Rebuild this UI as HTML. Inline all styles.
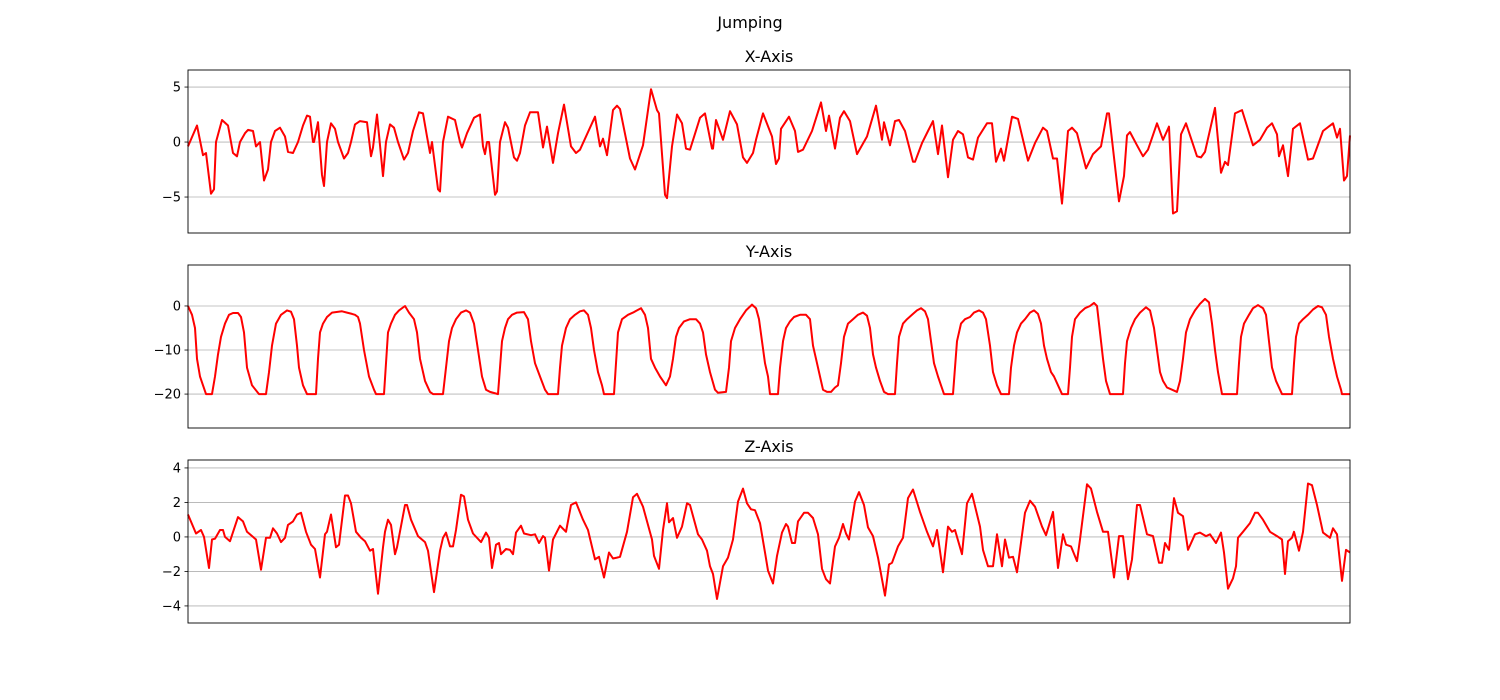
<!DOCTYPE html>
<html><head><meta charset="utf-8"><style>
body{margin:0;background:#fff;}
svg{display:block;font-family:"DejaVu Sans","Liberation Sans",sans-serif;}
</style></head><body>
<svg id="chart" width="1500" height="700" viewBox="0 0 1500 700" xmlns="http://www.w3.org/2000/svg">
<rect width="1500" height="700" fill="#fff"/>
<text x="750" y="28" text-anchor="middle" font-size="16">Jumping</text>
</svg>
<script>
// time samples (index axis) and values for each accelerometer axis
const xTime=[188,197,203,206,211,214,216,222,228,233,237,240,245,248,253,256,260,264,268,271,275,280,285,288,293,298,303,307,310,313,314,318,322,324,327,331,335,338,344,348,351,355,360,367,371,373,377,383,386,390,394,398,404,408,413,419,423,427,430,432,438,440,443,448,455,460,462,467,474,480,483,485,487,489,495,497,500,505,508,514,517,520,525,530,538,543,547,553,558,564,571,576,580,595,600,603,607,613,617,620,630,635,643,651,657,659,665,667,672,677,682,686,690,700,705,712,713,716,723,730,737,743,747,753,756,763,772,776,779,781,789,795,798,803,812,821,826,829,835,840,844,850,857,867,876,882,884,890,895,899,905,913,915,922,928,933,938,942,948,953,958,963,968,973,978,987,992,996,1001,1004,1012,1018,1028,1035,1043,1047,1053,1057,1062,1068,1072,1077,1086,1093,1101,1107,1109,1119,1124,1127,1130,1137,1143,1148,1157,1163,1169,1173,1177,1181,1186,1197,1201,1205,1215,1221,1225,1228,1235,1242,1253,1260,1267,1272,1277,1279,1283,1288,1293,1300,1308,1313,1323,1333,1337,1340,1344,1347,1350];
const xVals=[-0.4,1.5,-1.2,-1,-4.7,-4.3,0,2,1.5,-1,-1.3,0,0.8,1.1,1,-0.4,0,-3.5,-2.5,0,1,1.3,0.5,-0.9,-1,0,1.5,2.4,2.3,0,0,1.8,-3,-4,0,1.7,1.2,0,-1.5,-1,0,1.6,1.9,1.8,-1.3,-0.5,2.5,-3.1,0,1.6,1.3,0,-1.6,-1,1,2.7,2.6,0.5,-1,0,-4.3,-4.5,0,2.3,2,0,-0.5,0.8,2.2,2.5,-0.4,-1.1,0,0,-4.8,-4.5,0,1.8,1.3,-1.4,-1.7,-1,1.5,2.7,2.7,-0.5,1.4,-1.9,0.8,3.4,-0.4,-1,-0.7,2.3,-0.4,0.3,-1.2,2.9,3.3,3,-1.5,-2.5,-0.3,4.8,2.9,2.6,-4.8,-5.1,-0.4,2.5,1.7,-0.6,-0.7,2.2,2.6,-0.6,-0.6,2,0.2,2.8,1.6,-1.4,-1.9,-1,0.2,2.6,0.5,-2,-1.5,1.2,2.3,1,-0.9,-0.7,1,3.6,1,2.4,-0.6,2.2,2.8,1.9,-1.1,0.5,3.3,0.2,1.8,-0.3,1.9,2,1,-1.8,-1.8,-0.1,1,1.9,-1.1,1.5,-3.2,0.2,1,0.7,-1.4,-1.6,0.4,1.7,1.7,-1.8,-0.6,-1.7,2.3,2.1,-1.7,-0.1,1.3,1,-1.5,-1.5,-5.6,1,1.3,0.8,-2.4,-1.1,-0.4,2.6,2.6,-5.4,-3.1,0.6,0.9,-0.3,-1.3,-0.7,1.7,0.2,1.4,-6.5,-6.3,0.7,1.7,-1.3,-1.4,-0.9,3.1,-2.8,-1.8,-2.1,2.6,2.9,-0.3,0.2,1.3,1.7,0.7,-1.3,-0.3,-3.1,1.2,1.7,-1.6,-1.5,1,1.7,0.4,1.2,-3.5,-3.1,0.6];

const yTime=[188,192,195,197,200,203,206,212,215,218,221,225,229,233,238,241,244,247,252,259,266,269,272,276,281,287,291,294,297,299,303,307,316,318,320,323,327,332,342,347,352,355,358,360,364,369,374,376,384,386,388,391,395,399,405,409,414,417,420,425,430,433,443,446,449,452,456,461,466,470,474,478,482,486,490,498,500,502,505,508,512,517,524,528,531,535,540,545,548,558,560,562,566,570,575,580,584,588,591,594,598,602,604,614,616,618,622,628,633,637,641,645,648,651,655,660,666,670,673,676,679,684,690,696,700,703,706,710,715,718,726,729,731,735,740,746,752,756,759,762,765,768,770,778,780,783,786,790,794,800,806,810,813,817,820,823,827,831,835,838,841,844,848,853,858,863,867,870,873,876,880,884,888,895,897,899,903,907,912,917,921,925,928,931,934,938,941,944,953,955,957,961,965,970,974,979,983,986,990,993,997,1001,1009,1011,1014,1017,1021,1025,1030,1034,1038,1041,1044,1047,1051,1054,1058,1062,1068,1070,1072,1075,1080,1085,1090,1094,1097,1100,1103,1106,1110,1123,1125,1127,1131,1135,1140,1146,1150,1154,1157,1160,1163,1167,1172,1177,1180,1183,1186,1190,1195,1200,1205,1209,1212,1215,1218,1222,1237,1239,1241,1244,1249,1253,1258,1263,1266,1269,1272,1276,1282,1292,1294,1296,1299,1303,1308,1313,1318,1322,1326,1329,1333,1337,1341,1342,1350];
const yVals=[0,-2,-5,-12,-16,-18,-20,-20,-16,-11,-7,-4,-2,-1.6,-1.6,-2.5,-6,-14,-18,-20,-20,-15,-9,-4,-2,-1,-1.3,-3,-9,-14,-18,-20,-20,-12,-6,-4,-2.5,-1.5,-1.2,-1.5,-1.8,-2,-2.5,-4,-10,-16,-19,-20,-20,-13,-6,-4,-2,-1,0,-1.5,-3,-6,-12,-17,-19.5,-20,-20,-14,-8,-5,-3,-1.5,-1,-1.5,-4,-10,-16,-19,-19.5,-20,-14,-8,-5,-3,-2,-1.5,-1.4,-3,-8,-13,-16,-19,-20,-20,-14,-9,-5,-3,-2,-1.2,-1,-2,-5,-10,-15,-18,-20,-20,-13,-6,-3,-2,-1.5,-1,-0.5,-2,-5,-12,-14,-16,-18,-16,-12,-7,-5,-3.5,-3,-3,-4,-6,-11,-15,-19,-19.7,-19.5,-14,-8,-5,-3,-1,0.3,-0.5,-3,-8,-13,-16,-20,-20,-14,-8,-5,-3.5,-2.5,-2,-2,-3,-9,-13,-16,-19,-19.5,-19.5,-18.5,-18,-13,-7,-4,-3,-2,-1.5,-2.2,-5,-11,-14,-17,-19.5,-20,-20,-13,-7,-4,-3,-2,-1,-0.5,-1.2,-3,-8,-13,-16,-18,-20,-20,-14,-8,-4,-3,-2.5,-1.5,-1,-1.5,-3,-9,-15,-18,-20,-20,-14,-9,-6,-4,-3,-1.5,-1,-1.8,-4,-9,-12,-15,-16,-18,-20,-20,-14,-7,-3,-1.5,-0.5,0,0.7,0,-6,-12,-17,-20,-20,-13,-8,-5,-3,-1.5,-0.3,-1,-5,-10,-15,-17,-18.5,-19,-19.5,-17,-12,-6,-3,-1,0.5,1.6,0.8,-4,-10,-15,-20,-20,-13,-7,-4,-2,-0.5,0.2,-0.5,-2,-8,-14,-17,-20,-20,-13,-7,-4,-3,-2,-0.8,0,-0.3,-2,-7,-12,-16,-19,-20,-20];

const zTime=[188,196,201,204,209,212,215,220,223,225,230,238,243,247,253,256,261,266,270,273,277,281,285,288,293,297,301,306,311,315,320,325,327,331,336,339,345,348,351,356,361,365,370,373,378,383,385,388,391,395,397,405,407,411,418,425,428,434,440,443,446,450,453,456,461,464,468,473,481,486,489,492,496,499,501,506,510,513,516,521,524,531,535,539,543,545,549,553,560,566,571,576,583,588,595,599,604,609,613,617,620,627,633,637,643,652,654,659,663,667,669,673,677,682,687,690,698,702,707,710,713,717,723,728,733,738,743,747,751,755,760,765,768,773,777,782,786,788,792,795,798,804,808,813,818,822,826,830,835,839,843,846,849,855,859,864,868,873,878,885,889,892,898,903,908,913,920,927,933,937,943,948,952,955,962,967,972,980,983,988,993,997,1002,1005,1009,1013,1017,1025,1030,1035,1042,1046,1053,1058,1063,1066,1071,1077,1080,1087,1091,1097,1103,1108,1114,1119,1123,1128,1132,1137,1140,1147,1153,1159,1162,1165,1169,1174,1178,1183,1188,1195,1200,1206,1210,1216,1221,1224,1228,1233,1236,1238,1243,1250,1255,1258,1263,1270,1277,1282,1285,1288,1292,1294,1299,1303,1308,1312,1317,1323,1330,1333,1337,1342,1346,1350];
const zVals=[1.3,0.2,0.4,0,-1.8,-0.15,-0.1,0.4,0.4,0,-0.25,1.15,0.9,0.3,0,-0.15,-1.9,-0.05,-0.05,0.5,0.2,-0.3,-0.05,0.7,0.9,1.3,1.4,0.3,-0.45,-0.7,-2.35,0.15,0.3,1.3,-0.6,-0.45,2.4,2.4,1.95,0.3,-0.05,-0.25,-0.8,-0.7,-3.3,-0.6,0.3,1,0.7,-1,-0.6,1.85,1.85,1,0.05,-0.3,-0.8,-3.2,-0.8,-0.05,0.25,-0.55,-0.55,0.4,2.45,2.35,1,0.2,-0.3,0.25,-0.05,-1.8,-0.45,-0.35,-1,-0.7,-0.75,-1,0.25,0.65,0.2,0.1,0.15,-0.35,0.05,-0.05,-1.95,-0.15,0.65,0.3,1.85,2,1,0.4,-1.3,-1.15,-2.35,-0.9,-1.25,-1.2,-1.15,0.3,2.3,2.5,1.75,-0.15,-1.1,-1.85,0.4,1.95,0.85,1.1,-0.05,0.6,1.95,1.85,0.15,-0.15,-0.8,-1.7,-2.15,-3.6,-1.7,-1.2,-0.15,2.05,2.8,1.95,1.6,1.55,0.8,-0.9,-1.95,-2.7,-1.1,0.25,0.75,0.6,-0.35,-0.35,0.9,1.4,1.4,1.1,0.15,-1.85,-2.45,-2.7,-0.55,-0.05,0.75,0.2,-0.15,2.05,2.6,1.85,0.55,0.05,-1.2,-3.4,-1.6,-1.5,-0.55,-0.05,2.25,2.75,1.45,0.3,-0.55,0.4,-2.05,0.6,0.3,0.4,-1,1.95,2.5,0.6,-0.75,-1.7,-1.7,0.15,-1.7,-0.15,-1.2,-1.15,-2.05,1.4,2.1,1.75,0.6,0.1,1.45,-1.8,0.15,-0.45,-0.55,-1.4,-0.15,3.05,2.8,1.45,0.3,0.3,-2.35,0.05,0.05,-2.45,-1.3,1.85,1.85,0.15,0.05,-1.5,-1.5,-0.35,-0.75,2.25,1.4,1.2,-0.75,0.15,0.25,0.05,0.15,-0.35,0.25,-0.9,-3,-2.4,-1.7,-0.05,0.3,0.8,1.4,1.4,1,0.3,0.05,-0.15,-2.15,-0.25,-0.05,0.3,-0.8,0.3,3.1,3,1.85,0.25,-0.05,0.5,0.15,-2.55,-0.75,-0.9];

const xTicks=[5,0,-5];
const yTicks=[0,-10,-20];
const zTicks=[4,2,0,-2,-4];
const panelTitles=["X-Axis","Y-Axis","Z-Axis"];

const NS="http://www.w3.org/2000/svg";
const svg=document.getElementById('chart');
const L=188,R=1350;
const tMin=188,tMax=1350;
function mk(tag,attrs,parent){const e=document.createElementNS(NS,tag);for(const k in attrs)e.setAttribute(k,attrs[k]);(parent||svg).appendChild(e);return e;}
function fmt(v){return v<0?'\u2212'+Math.abs(v):String(v);}

const panels=[
 {top:70,bot:233,vmax:6.55,vmin:-8.27,t:xTime,v:xVals,ticks:xTicks,key:'x'},
 {top:265,bot:428,vmax:9.3,vmin:-27.7,t:yTime,v:yVals,ticks:yTicks,key:'y'},
 {top:460,bot:623,vmax:4.46,vmin:-4.99,t:zTime,v:zVals,ticks:zTicks,key:'z'}
];
panels.forEach((p,i)=>{
 const g=mk('g',{});
 
 
 const sx=t=>L+(t-tMin)/(tMax-tMin)*(R-L);
 const sy=v=>p.top+(p.vmax-v)/(p.vmax-p.vmin)*(p.bot-p.top);
 p.ticks.forEach(tv=>{
  const y=sy(tv);
  const gl=mk('line',{x1:L,x2:R,y1:y,y2:y,stroke:'#b0b0b0','stroke-width':0.8},g);
  
  
  const tk=mk('line',{x1:L-3.5,x2:L,y1:y,y2:y,stroke:'#000','stroke-width':0.8},g);
  
  
  const tl=mk('text',{x:L-7,y:y+4.5,'text-anchor':'end','font-size':13},g);
  tl.textContent=fmt(tv);
  
  
 });
 let d='';
 p.t.forEach((t,j)=>{d+=(j?'L':'M')+sx(t).toFixed(1)+','+sy(p.v[j]).toFixed(1);});
 const ln=mk('path',{d:d,fill:'none',stroke:'#ff0000','stroke-width':2,'stroke-linejoin':'round'},g);
 
 
 const fr=mk('rect',{x:L,y:p.top,width:R-L,height:p.bot-p.top,fill:'none',stroke:'#000','stroke-width':0.9},g);
 
 
 const tt=mk('text',{x:(L+R)/2,y:p.top-8,'text-anchor':'middle','font-size':16},g);
 tt.textContent=panelTitles[i];
 
 
});
</script>
</body></html>
